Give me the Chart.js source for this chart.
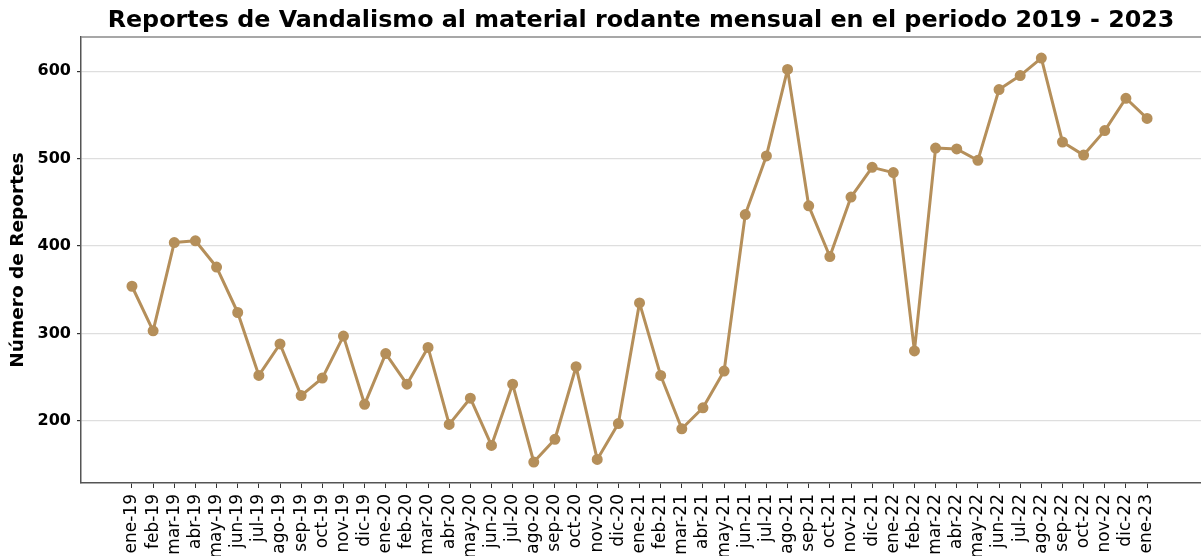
<!DOCTYPE html>
<html>
<head>
    <script src="https://cdn.jsdelivr.net/npm/chart.js@4/dist/chart.umd.min.js"></script>
    <style>
        html, body { margin: 0; padding: 0; background: #fff; overflow: hidden; }
        #wrap { width: 1201px; height: 556px; }
    </style>
</head>
<body>
<div id="wrap">
    <canvas id="vandalismo"></canvas>
</div>

<script>
    const meses = [
        'ene-19', 'feb-19', 'mar-19', 'abr-19', 'may-19', 'jun-19', 'jul-19', 'ago-19', 'sep-19', 'oct-19', 'nov-19', 'dic-19',
        'ene-20', 'feb-20', 'mar-20', 'abr-20', 'may-20', 'jun-20', 'jul-20', 'ago-20', 'sep-20', 'oct-20', 'nov-20', 'dic-20',
        'ene-21', 'feb-21', 'mar-21', 'abr-21', 'may-21', 'jun-21', 'jul-21', 'ago-21', 'sep-21', 'oct-21', 'nov-21', 'dic-21',
        'ene-22', 'feb-22', 'mar-22', 'abr-22', 'may-22', 'jun-22', 'jul-22', 'ago-22', 'sep-22', 'oct-22', 'nov-22', 'dic-22',
        'ene-23'
    ];
    const reportes = [
        354, 303, 404, 406, 376, 324, 252, 288, 229, 249, 297, 219,
        277, 242, 284, 196, 226, 172, 242, 153, 179, 262, 156, 197,
        335, 252, 191, 215, 257, 436, 503, 602, 446, 388, 456, 490,
        484, 280, 512, 511, 498, 579, 595, 615, 519, 504, 532, 569,
        546
    ];
    const yTicks = [200, 300, 400, 500, 600];

    const color = '#b58f5a';
    const puntos = reportes.map((v, i) => ({x: i, y: v}));

    // linea superior del marco
    const marcoSuperior = {
        id: 'marcoSuperior',
        afterDraw(chart) {
            const ctx = chart.ctx;
            const a = chart.chartArea;
            ctx.save();
            ctx.strokeStyle = '#8a8a8a';
            ctx.lineWidth = 1.5;
            ctx.beginPath();
            ctx.moveTo(a.left, a.top);
            ctx.lineTo(a.right, a.top);
            ctx.stroke();
            ctx.restore();
        }
    };

    new Chart(document.getElementById('vandalismo'), {
        type: 'line',
        data: {
            datasets: [{
                data: puntos,
                borderColor: color,
                backgroundColor: color,
                borderWidth: 3,
                borderJoinStyle: 'round',
                pointRadius: 4,
                pointHoverRadius: 4,
                pointBackgroundColor: color,
                pointBorderColor: color,
                tension: 0
            }]
        },
        options: {
            responsive: true,
            maintainAspectRatio: false,
            animation: false,
            layout: {padding: 0, autoPadding: false},
            plugins: {
                legend: {display: false},
                tooltip: {enabled: false},
                title: {
                    display: true,
                    text: 'Reportes de Vandalismo al material rodante mensual en el periodo 2019 - 2023',
                    color: '#000',
                    fullSize: false,
                    font: {family: 'DejaVu Sans', size: 23.8, weight: 'bold', lineHeight: 1.2},
                    padding: {top: 6.3, bottom: 2.2}
                }
            },
            scales: {
                x: {
                    type: 'linear',
                    min: -2.41,
                    max: 50.55,
                    afterBuildTicks(scale) {
                        scale.ticks = meses.map((m, i) => ({value: i}));
                    },
                    afterFit(scale) {
                        scale.height = 73;
                    },
                    ticks: {
                        autoSkip: false,
                        maxRotation: 90,
                        minRotation: 90,
                        padding: 6,
                        color: '#000',
                        font: {family: 'DejaVu Sans', size: 17},
                        callback: (v) => meses[v] ?? ''
                    },
                    grid: {
                        display: true,
                        drawOnChartArea: false,
                        drawTicks: true,
                        tickLength: 5,
                        color: '#333'
                    },
                    border: {display: true, color: '#555', width: 1.5}
                },
                y: {
                    min: 129,
                    max: 639,
                    afterBuildTicks(scale) {
                        scale.ticks = yTicks.map(v => ({value: v}));
                    },
                    afterFit(scale) {
                        scale.width = 81;
                    },
                    title: {
                        display: true,
                        text: 'Número de Reportes',
                        color: '#000',
                        font: {family: 'DejaVu Sans', size: 18.5, weight: 'bold'},
                        padding: {top: 7, bottom: 0}
                    },
                    ticks: {
                        padding: 6,
                        color: '#000',
                        font: {family: 'DejaVu Sans', size: 16, weight: 'bold'}
                    },
                    grid: {
                        color: '#dedede',
                        lineWidth: 1.2,
                        tickLength: 4,
                        tickColor: '#333'
                    },
                    border: {display: true, color: '#555', width: 1.5}
                }
            }
        },
        plugins: [marcoSuperior]
    });
</script>
</body>
</html>
